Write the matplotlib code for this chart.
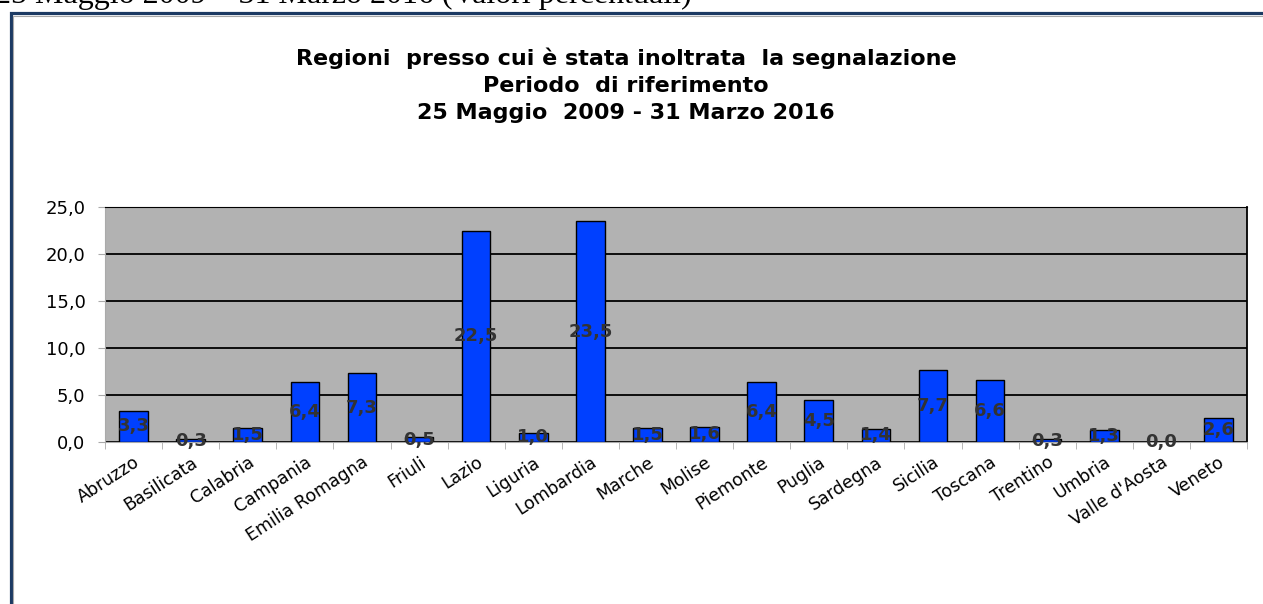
import numpy as np
import matplotlib
matplotlib.use("Agg")
from matplotlib import pyplot as plt
from matplotlib.patches import Rectangle

regioni = ["Abruzzo", "Basilicata", "Calabria", "Campania", "Emilia Romagna",
           "Friuli", "Lazio", "Liguria", "Lombardia", "Marche", "Molise",
           "Piemonte", "Puglia", "Sardegna", "Sicilia", "Toscana", "Trentino",
           "Umbria", "Valle d'Aosta", "Veneto"]
percentuali = [3.3, 0.3, 1.5, 6.4, 7.3, 0.5, 22.5, 1.0, 23.5, 1.5, 1.6,
               6.4, 4.5, 1.4, 7.7, 6.6, 0.3, 1.3, 0.0, 2.6]
y_ticks = [0, 5, 10, 15, 20, 25]

righe_titolo = ["Regioni  presso cui è stata inoltrata  la segnalazione",
                "Periodo  di riferimento",
                "25 Maggio  2009 - 31 Marzo 2016"]
testo_sopra = "25 Maggio 2009 – 31 Marzo 2016 (Valori percentuali)"

W, H = 1263, 604
fig = plt.figure(figsize=(W / 100, H / 100), dpi=100)
plt.rcParams['font.family'] = ['DejaVu Sans']

# cornice esterna
fig.add_artist(Rectangle((10.5 / W, -0.1), 1.2, 1.1 - 13.5 / H, transform=fig.transFigure,
                         fill=False, edgecolor='#1c3a63', lw=2.3))
fig.add_artist(Rectangle((13 / W, -0.1), 1.2, 1.1 - 16 / H, transform=fig.transFigure,
                         fill=False, edgecolor='#a8a8a8', lw=0.8))

fig.text(-0.004, 1 - 3 / H, testo_sopra, family='Liberation Serif', fontsize=23,
         va='baseline', ha='left')

ax = fig.add_axes([105 / W, 1 - 442 / H, (1247 - 105) / W, (442 - 207) / H])
ax.set_facecolor('#b2b2b2')
x = np.arange(len(regioni))
ax.bar(x, percentuali, width=0.5, color='#0040ff', edgecolor='black', lw=1, zorder=3)

for i, v in enumerate(percentuali):
    ax.text(i, v / 2, "{:.1f}".format(v).replace('.', ','), ha='center', va='center',
            fontsize=13, fontweight='bold', color='#333333', zorder=4)

ax.set_xlim(-0.5, len(regioni) - 0.5)
ax.set_ylim(0, 25)
ax.set_yticks(y_ticks)
ax.set_yticklabels(["{:.1f}".format(t).replace('.', ',') for t in y_ticks], fontsize=13)
ax.yaxis.grid(True, color='black', lw=1.3)
ax.set_axisbelow(True)

ax.set_xticks(x)
ax.set_xticklabels(regioni, rotation=33, ha='right', va='top', rotation_mode='anchor',
                   fontsize=12.5)
ax.set_xticks(np.arange(len(regioni) + 1) - 0.5, minor=True)
ax.tick_params(axis='x', which='major', length=0, pad=8)
ax.tick_params(axis='x', which='minor', length=5, color='#aaaaaa')
ax.tick_params(axis='y', length=5, color='#aaaaaa', pad=9)

for s in ['left', 'bottom']:
    ax.spines[s].set_color('#aaaaaa')
ax.spines['top'].set_color('black')
ax.spines['right'].set_color('black')
ax.spines['right'].set_linewidth(1.3)

for riga, base in zip(righe_titolo, [65, 92, 119]):
    fig.text(626 / W, 1 - base / H, riga, ha='center', va='baseline', fontsize=16,
             fontweight='bold')

fig.savefig("out.png", dpi=100)
